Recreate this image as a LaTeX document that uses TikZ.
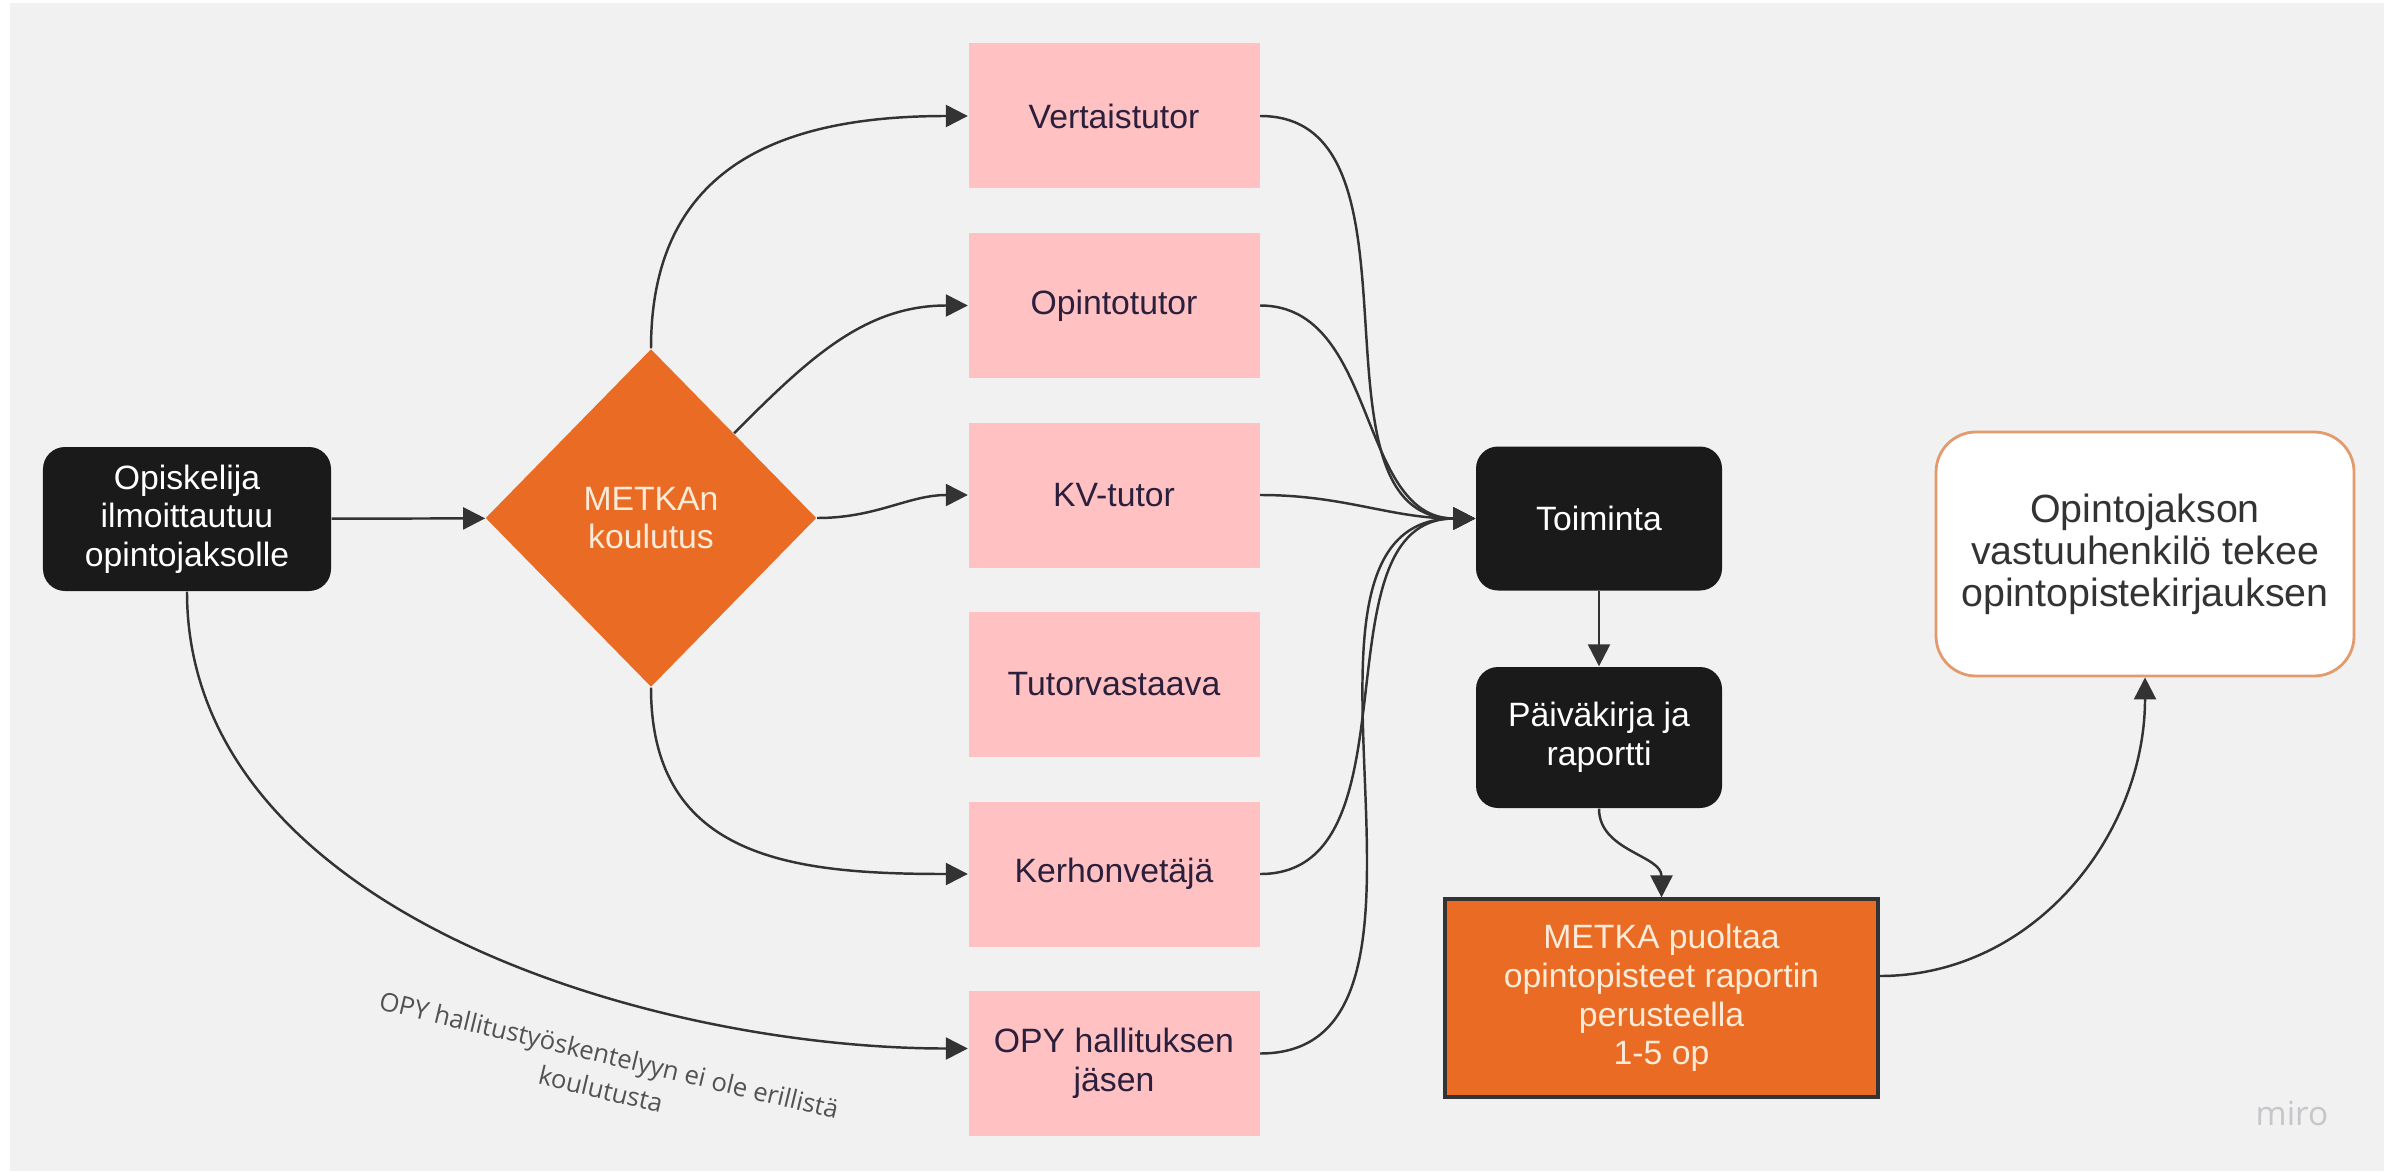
\documentclass[tikz,border=0pt]{standalone}
\usepackage{fontspec}
\setmainfont{Liberation Sans}
\newfontfamily\notefont{Open Sans}
\usetikzlibrary{shapes.geometric,arrows.meta}
\definecolor{bggray}{HTML}{F1F1F1}
\definecolor{boxblack}{HTML}{1A1A1A}
\definecolor{metkaorange}{HTML}{EA6C24}
\definecolor{tutorpink}{HTML}{FFC1C1}
\definecolor{tutortext}{HTML}{2A1F3D}
\definecolor{creamtext}{HTML}{FCEBD9}
\definecolor{linegray}{HTML}{333333}
\definecolor{rimorange}{HTML}{E39A6C}
\definecolor{miroghost}{HTML}{C6C6CA}

\begin{document}
\begin{tikzpicture}[
        basefont/.style={font=\fontsize{9.6}{11}\selectfont},
        blackbox/.style={basefont, fill=boxblack, text=white, rounded corners=0.22cm,
            minimum height=1.44cm, align=center, inner sep=2pt},
        tutorbox/.style={basefont, fill=tutorpink, text=tutortext, minimum width=2.91cm,
            minimum height=1.45cm, align=center, inner sep=2pt},
        conn/.style={draw=linegray, line width=0.7pt, -{Triangle[length=0.22cm,width=0.22cm]}}
    ]
    \fill[white] (0,0) rectangle (23.94,11.71);
    \fill[bggray] (0.10,0) rectangle (23.84,11.68);

    % alkuvaihe
    \node[blackbox, minimum width=2.88cm] (ilmo) at (1.87,6.52) {Opiskelija\\ilmoittautuu\\opintojaksolle};
    \node[diamond, aspect=1, fill=metkaorange, text=creamtext, basefont, align=center,
        minimum width=3.31cm, minimum height=3.38cm, inner sep=0pt] (koulutus) at (6.51,6.53) {METKAn\\koulutus};

    % tutorroolit
    \node[tutorbox] (vertais) at (11.14,10.55) {Vertaistutor};
    \node[tutorbox] (opinto) at (11.14,8.655) {Opintotutor};
    \node[tutorbox] (kv) at (11.14,6.76) {KV-tutor};
    \node[tutorbox] (vastaava) at (11.14,4.865) {Tutorvastaava};
    \node[tutorbox] (kerho) at (11.14,2.97) {Kerhonvetäjä};
    \node[tutorbox] (opy) at (11.14,1.075) {OPY hallituksen\\jäsen};

    % loppuvaihe
    \node[blackbox, minimum width=2.46cm] (toiminta) at (15.99,6.525) {Toiminta};
    \node[blackbox, minimum width=2.46cm, minimum height=1.41cm] (raportti) at (15.99,4.335) {Päiväkirja ja\\raportti};
    \node[basefont, fill=metkaorange, draw=linegray, line width=0.9pt, text=creamtext, align=center,
        minimum width=4.33cm, minimum height=1.98cm] (metka) at (16.615,1.73)
        {METKA puoltaa\\opintopisteet raportin\\perusteella\\1-5 op};
    \node[fill=white, draw=rimorange, line width=0.8pt, rounded corners=0.4cm, text=linegray, align=center,
        font=\fontsize{11.2}{12}\selectfont, minimum width=4.18cm, minimum height=2.44cm] (kirjaus) at (21.45,6.17)
        {Opintojakson\\vastuuhenkilö tekee\\opintopistekirjauksen};

    \node[rotate=-13.5, text=linegray!85, align=center, font=\notefont\fontsize{7.3}{10}\selectfont] (huom) at (6.05,0.99)
        {OPY hallitustyöskentelyyn ei ole erillistä\\koulutusta};
    \node[text=miroghost, font=\notefont\fontsize{9.5}{10}\selectfont] (miro) at (22.92,0.58) {miro};

    \draw[conn] (ilmo) -- (koulutus);
    \draw[conn] (koulutus.north) to[out=90, in=180, looseness=1.2] (vertais.west);
    \draw[conn] (koulutus.north east) to[out=45, in=180] (opinto.west);
    \draw[conn] (koulutus.east) to[out=0, in=180] (kv.west);
    \draw[conn] (koulutus.south) to[out=-90, in=180, looseness=1.2] (kerho.west);
    \draw[conn] (ilmo.south) to[out=-90, in=180, looseness=0.9] ([yshift=0.15cm]opy.west);

    \draw[conn] (vertais.east) to[out=0, in=180] (toiminta.west);
    \draw[conn] (opinto.east) to[out=0, in=180] (toiminta.west);
    \draw[conn] (kv.east) to[out=0, in=180] (toiminta.west);
    \draw[conn] (kerho.east) to[out=0, in=180] (toiminta.west);
    \draw[conn] ([yshift=0.1cm]opy.east) to[out=0, in=180] (toiminta.west);

    \draw[conn] (toiminta) -- (raportti);
    \draw[conn] (raportti.south) to[out=-90, in=90] (metka.north);
    \draw[conn] ([yshift=0.22cm]metka.east) to[out=0, in=-90] (kirjaus.south);
\end{tikzpicture}
\end{document}
